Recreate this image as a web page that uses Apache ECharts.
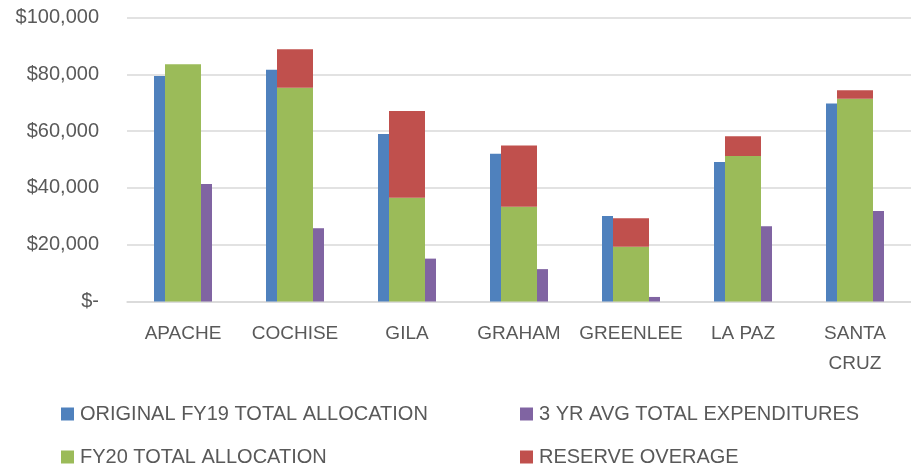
<!DOCTYPE html>
<html>
<head>
<meta charset="utf-8">
<script src="https://cdn.jsdelivr.net/npm/echarts@6/dist/echarts.min.js"></script>
<style>
html,body{margin:0;padding:0;background:#fff;}
#chart{width:911px;height:471px;}
</style>
</head>
<body>
<div id="chart"></div>
<script>
var categories = ['APACHE', 'COCHISE', 'GILA', 'GRAHAM', 'GREENLEE', 'LA PAZ', 'SANTA\nCRUZ'];
var originalFY19 = [79400, 81600, 59000, 52000, 30100, 49100, 69700];
var fy20Allocation = [83500, 75300, 36500, 33400, 19300, 51200, 71400];
var reserveOverage = [0, 13500, 30600, 21500, 10000, 7000, 3000];
var avgExpenditures = [41400, 25800, 15100, 11400, 1600, 26500, 31900];
var yTicks = [0, 20000, 40000, 60000, 80000, 100000];

var FONT = '"Liberation Sans", Arial, sans-serif';
var TXT = '#595959';

function fmt(v) {
  if (v === 0) return '$-';
  return '$' + v.toLocaleString('en-US');
}

function legendAt(name, left, top) {
  return {
    orient: 'horizontal', left: left, top: top,
    itemWidth: 13, itemHeight: 13, icon: 'rect', padding: 0,
    textStyle: { color: TXT, fontFamily: FONT, fontSize: 20, lineHeight: 23, padding: [0, 0, 0, 1] },
    data: [name]
  };
}

var chart = echarts.init(document.getElementById('chart'));
chart.setOption({
  animation: false,
  backgroundColor: '#fff',
  grid: { left: 127, right: 0, top: 17.5, bottom: 169.5, containLabel: false },
  xAxis: {
    type: 'category',
    data: categories,
    axisLine: { show: true, lineStyle: { color: '#d9d9d9', width: 1.5 } },
    axisTick: { show: false },
    axisLabel: {
      color: TXT, fontFamily: FONT, fontSize: 19, margin: 17, lineHeight: 30,
      interval: 0, align: 'center'
    }
  },
  yAxis: {
    type: 'value',
    min: yTicks[0],
    max: yTicks[yTicks.length - 1],
    interval: yTicks[1] - yTicks[0],
    axisLine: { show: false },
    axisTick: { show: false },
    splitLine: { lineStyle: { color: '#d9d9d9', width: 1.5 } },
    axisLabel: {
      color: TXT, fontFamily: FONT, fontSize: 20, margin: 28,
      formatter: function (v) { return fmt(v); }
    }
  },
  legend: [
    legendAt('ORIGINAL FY19 TOTAL ALLOCATION', 61, 402.5),
    legendAt('FY20 TOTAL ALLOCATION', 61, 445.5),
    legendAt('3 YR AVG TOTAL EXPENDITURES', 520, 402.5),
    legendAt('RESERVE OVERAGE', 520, 445.5)
  ],
  series: [
    {
      name: 'ORIGINAL FY19 TOTAL ALLOCATION', type: 'bar', data: originalFY19,
      barWidth: 11, barGap: '0%', itemStyle: { color: '#4F81BD' }
    },
    {
      name: 'FY20 TOTAL ALLOCATION', type: 'bar', stack: 'fy20', data: fy20Allocation,
      barWidth: 36, barGap: '0%', itemStyle: { color: '#9BBB59' }
    },
    {
      name: 'RESERVE OVERAGE', type: 'bar', stack: 'fy20', data: reserveOverage,
      barWidth: 36, barGap: '0%', itemStyle: { color: '#C0504D' }
    },
    {
      name: '3 YR AVG TOTAL EXPENDITURES', type: 'bar', data: avgExpenditures,
      barWidth: 11, barGap: '0%', itemStyle: { color: '#8064A2' }
    }
  ]
});
</script>
</body>
</html>
